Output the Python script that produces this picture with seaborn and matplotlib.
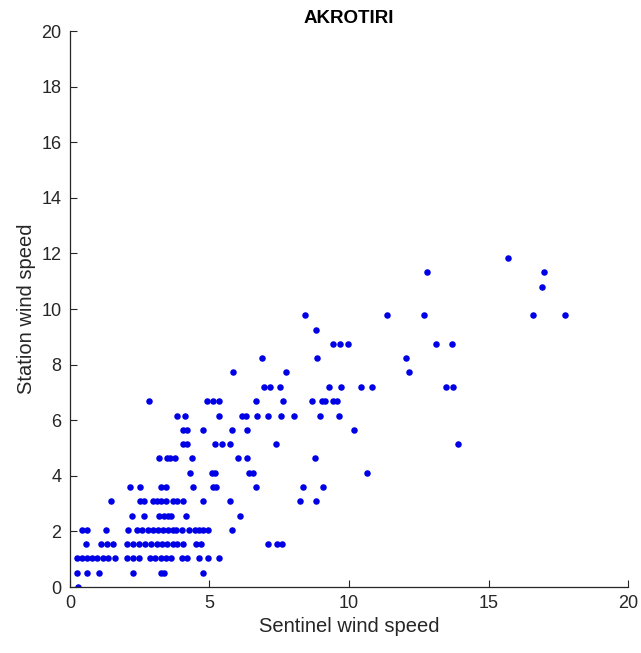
import pandas as pd
import seaborn as sns
import matplotlib.pyplot as plt

OUT_PATH = 'out.png'

# station speed levels (m/s) and the sentinel speeds found on each level
station_levels = [0.0, 0.51, 1.03, 1.54, 2.06, 2.57, 3.09, 3.60, 4.12, 4.63, 5.14, 5.66,
                  6.17, 6.69, 7.20, 7.72, 8.23, 8.75, 9.26, 9.77, 10.80, 11.32, 11.83]

sentinel_by_level = [
    [0.30],
    [0.24, 0.62, 1.05, 2.27, 3.25, 3.37, 4.78],
    [0.24, 0.42, 0.60, 0.78, 0.96, 1.19, 1.37, 1.61, 2.03, 2.27, 2.48, 2.87, 3.05, 3.26,
     3.44, 3.62, 4.00, 4.18, 4.63, 4.96, 5.35],
    [0.57, 1.10, 1.32, 1.55, 2.03, 2.27, 2.48, 2.69, 2.89, 3.11, 3.29, 3.48, 3.68, 3.85,
     4.04, 4.52, 4.69, 7.11, 7.41, 7.59],
    [0.42, 0.60, 1.29, 2.09, 2.39, 2.57, 2.81, 2.99, 3.17, 3.32, 3.50, 3.68, 3.80, 4.00,
     4.28, 4.48, 4.64, 4.78, 4.94, 5.80],
    [2.21, 2.66, 3.20, 3.36, 3.52, 3.64, 4.16, 6.09],
    [1.46, 2.51, 2.65, 2.99, 3.11, 3.25, 3.44, 3.70, 3.82, 4.06, 4.76, 5.73, 8.24, 8.82],
    [2.15, 2.51, 3.25, 3.44, 4.40, 5.12, 5.25, 6.67, 8.36, 9.08],
    [4.30, 5.08, 5.20, 6.43, 6.55, 10.66],
    [3.20, 3.47, 3.60, 3.76, 4.36, 6.03, 6.33, 8.78],
    [4.04, 4.18, 5.20, 5.46, 5.73, 7.38, 13.90],
    [4.04, 4.18, 4.78, 5.82, 6.34, 10.18],
    [3.85, 4.12, 5.34, 6.18, 6.30, 6.72, 7.11, 7.58, 8.04, 8.97, 9.65],
    [2.84, 4.93, 5.11, 5.35, 6.65, 7.65, 8.67, 9.02, 9.14, 9.44, 9.56],
    [6.95, 7.17, 7.54, 9.28, 9.70, 10.42, 10.84, 13.47, 13.74],
    [5.85, 7.74, 12.15],
    [6.87, 8.84, 12.04],
    [9.44, 9.68, 9.98, 13.11, 13.70],
    [8.82],
    [8.42, 11.37, 12.69, 16.58, 17.74],
    [16.90],
    [12.81, 17.00],
    [15.68],
]

x_ticks = [0, 5, 10, 15, 20]
y_ticks = [0, 2, 4, 6, 8, 10, 12, 14, 16, 18, 20]


def main():
    rows = []
    for lvl, xs in zip(station_levels, sentinel_by_level):
        for xv in xs:
            rows.append({'sentinel': xv, 'station': lvl})
    df = pd.DataFrame(rows)

    sns.set_style('white')
    plt.rcParams['font.family'] = ['Liberation Sans', 'DejaVu Sans']

    fig = plt.figure(figsize=(6.41, 6.53), dpi=100)
    ax = fig.add_axes([0.109, 0.101, 0.871, 0.8515])

    sns.scatterplot(data=df, x='sentinel', y='station', ax=ax, color='#0000e6',
                    s=22, linewidth=0, legend=False)

    ax.set_xlim(0, 20)
    ax.set_ylim(0, 20)
    ax.set_xticks(x_ticks)
    ax.set_yticks(y_ticks)
    ax.tick_params(bottom=True, left=True, direction='in', length=5, width=0.8,
                   color='#262626', labelcolor='#262626', labelsize=13, pad=6)
    for side in ['top', 'right']:
        ax.spines[side].set_visible(False)
    for side in ['left', 'bottom']:
        ax.spines[side].set_color('#262626')
        ax.spines[side].set_linewidth(0.9)

    ax.set_xlabel('Sentinel wind speed', fontsize=14.5, color='#262626', labelpad=3)
    ax.set_ylabel('Station wind speed', fontsize=14.5, color='#262626', labelpad=4)
    ax.set_title('AKROTIRI', fontsize=13.5, fontweight='bold', color='black', pad=6)

    fig.savefig(OUT_PATH, dpi=100)


if __name__ == '__main__':
    main()
